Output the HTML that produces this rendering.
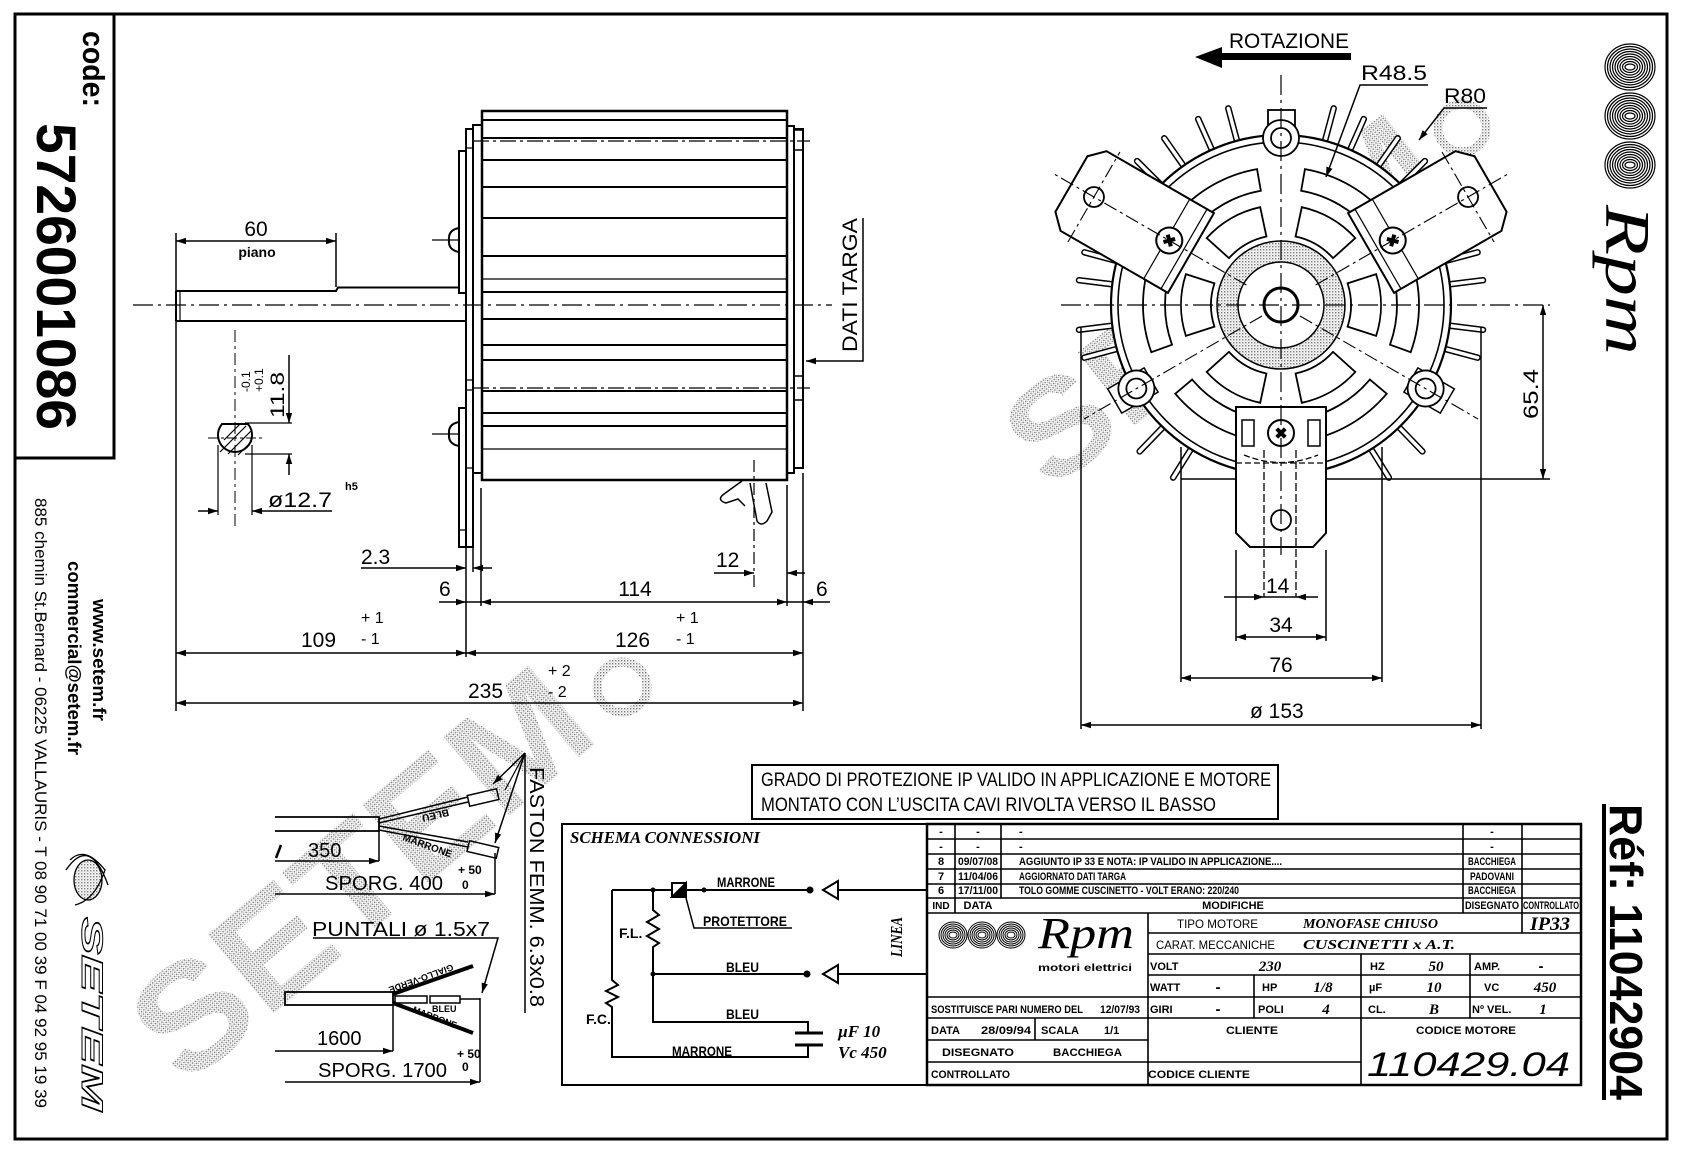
<!DOCTYPE html>
<html><head><meta charset="utf-8"><style>
html,body{margin:0;padding:0;background:#fff;}
svg{display:block;}
text{font-family:"Liberation Sans",sans-serif;fill:#000;stroke:none;}
.s{font-family:"Liberation Serif",serif;font-weight:bold;font-style:italic;}
</style></head><body>
<svg width="1683" height="1153" viewBox="0 0 1683 1153" xmlns="http://www.w3.org/2000/svg">
<defs>
<marker id="a" markerUnits="userSpaceOnUse" markerWidth="12" markerHeight="8" refX="10" refY="4" orient="auto-start-reverse"><path d="M0,0.8 L10,4 L0,7.2 z" fill="#000"/></marker>
<pattern id="st" width="3" height="3" patternUnits="userSpaceOnUse"><rect x="0" y="0" width="1.4" height="1.4" fill="#777"/><rect x="1.6" y="1.6" width="1" height="1" fill="#aaa"/></pattern>
<path id="so" d="M129.68,-47.2 A138,138 0 0 1 129.68,47.2 L109,39.67 A116,116 0 0 0 109,-39.67 Z"/>
<path id="si" d="M95.11,-30.9 A100,100 0 0 1 95.11,30.9 L66.58,21.63 A70,70 0 0 0 66.58,-21.63 Z"/>
<rect id="fin" x="166" y="-2.5" width="40" height="5" rx="2.5"/>
<path id="ph" d="M-6,-2 H-2 V-6 H2 V-2 H6 V2 H2 V6 H-2 V2 H-6 Z"/>
<g id="blob"><ellipse rx="25" ry="23"/><ellipse rx="22.5" ry="20.5"/><ellipse rx="20" ry="18"/><ellipse rx="17.5" ry="15.5"/><ellipse rx="15" ry="13"/><ellipse rx="12.5" ry="10.5"/><ellipse rx="10" ry="8"/><ellipse rx="7.5" ry="5.5"/><ellipse rx="5" ry="3"/></g>
<g id="blob2"><ellipse rx="14" ry="13"/><ellipse rx="12" ry="11"/><ellipse rx="10" ry="9"/><ellipse rx="8" ry="7"/><ellipse rx="6" ry="5"/><ellipse rx="4" ry="3"/></g>
</defs>
<rect width="1683" height="1153" fill="#fff"/>

<!-- watermarks -->
<text transform="translate(1050,492) rotate(-38)" font-size="135" font-weight="bold" textLength="505" lengthAdjust="spacingAndGlyphs" style="fill:url(#st)">SETEM</text>
<text transform="translate(185,1088) rotate(-40)" font-size="150" font-weight="bold" textLength="545" lengthAdjust="spacingAndGlyphs" style="fill:url(#st)">SETEM</text>
<circle cx="1462" cy="128" r="24" fill="none" stroke="url(#st)" stroke-width="9"/>
<circle cx="622" cy="687" r="25" fill="none" stroke="url(#st)" stroke-width="9"/>

<g stroke="#000" fill="none" stroke-width="2">
<rect x="15" y="14" width="1652" height="1125" stroke-width="3"/>
<path d="M114,14 V458 H15" stroke-width="3"/>
</g>

<!-- left column texts -->
<text transform="translate(83,31) rotate(90)" font-size="31" font-weight="bold" textLength="76" lengthAdjust="spacingAndGlyphs">code:</text>
<text transform="translate(37,123) rotate(90)" font-size="56" font-weight="bold" textLength="307" lengthAdjust="spacingAndGlyphs">5726001086</text>
<text transform="translate(35,498) rotate(90)" font-size="17" textLength="610" lengthAdjust="spacingAndGlyphs">885 chemin St.Bernard  -  06225 VALLAURIS  -  T 08 90 71 00 39   F 04 92 95 19 39</text>
<text transform="translate(68,561) rotate(90)" font-size="18" font-weight="bold" textLength="194" lengthAdjust="spacingAndGlyphs">commercial@setem.fr</text>
<text transform="translate(93,599) rotate(90)" font-size="18" font-weight="bold" textLength="122" lengthAdjust="spacingAndGlyphs">www.setem.fr</text>
<g stroke="#000" fill="none" stroke-width="1.3">
<ellipse cx="88" cy="880" rx="14" ry="20" fill="url(#st)"/>
<path d="M70,860 Q85,845 105,870 Q95,900 75,905 M66,870 Q90,835 108,885"/>
</g>
<text transform="translate(82,917) rotate(90)" font-size="30" font-weight="bold" font-style="italic" textLength="194" lengthAdjust="spacingAndGlyphs" style="fill:none;stroke:#000;stroke-width:1">SETEM</text>

<!-- ===== SIDE VIEW ===== -->
<g stroke="#000" fill="none" stroke-width="2">
<path d="M176,291 H336 L338,287.5 H459"/>
<path d="M176,321 H466"/>
<path d="M176,291 V321" />
<path d="M180,291 V321" stroke-width="1.2"/>
<rect x="473" y="125" width="9" height="348" fill="#fff"/>
<rect x="466" y="129" width="7" height="418" fill="#fff"/>
<rect x="459" y="151" width="7" height="142"/>
<rect x="459" y="408" width="7" height="139"/>
<path d="M466,148 H473 M466,380 H473 M466,390 H473 M466,468 H473 M459,530 H466" stroke-width="1.2"/>
<path d="M459,228 Q448,230 449,240 Q448,250 459,252 Z"/>
<path d="M459,422 Q448,424 449,434 Q448,444 459,446 Z"/>
<path d="M432,240 H459 M432,434 H459" stroke-width="1.2"/>
<rect x="482" y="111" width="305" height="369" stroke-width="2.5"/>
<path d="M482,120 H787 M482,138 H787 M482,160 H787 M482,187 H787 M482,218 H787 M482,256 H787 M482,292 H787 M482,319 H787 M482,345 H787 M482,360 H787 M482,391 H787 M482,413 H787 M482,426 H787"/>
<path d="M482,279 H787 M482,449 H787" stroke-width="1.2"/>
<path d="M473,141 H810 M473,388 H810" stroke-width="1.2" stroke-dasharray="16,4,3,4"/>
<rect x="787" y="126" width="7" height="347"/>
<rect x="794" y="129" width="9" height="339"/>
<rect x="794" y="130" width="9" height="20" stroke-width="1.5"/>
<rect x="794" y="376" width="9" height="24" stroke-width="1.5"/>
<path d="M742,481 L724,494 Q716,500 726,503 L738,499 L745,506" stroke-width="1.5"/>
<path d="M750,483 L757,521 Q761,527 767,521 L772,512 L766,483" stroke-width="1.5"/>
<line x1="133" y1="305" x2="832" y2="305" stroke-width="1.2" stroke-dasharray="20,5,3,5"/>
<line x1="754" y1="460" x2="754" y2="590" stroke-width="1.2" stroke-dasharray="12,4,3,4"/>
<path d="M863,218 V361 H806" marker-end="url(#a)" stroke-width="1.5"/>
<path d="M222,424 H248 A17,17 0 1 1 222,424 Z" stroke-width="2"/>
<g stroke-width="1.2">
<path d="M224,440 L240,424 M220,452 L246,426 M228,454 L252,430 M238,455 L252,441"/>
</g>
<line x1="235" y1="330" x2="235" y2="527" stroke-width="1" stroke-dasharray="12,4,3,4"/>
<line x1="208" y1="438" x2="262" y2="438" stroke-width="1" stroke-dasharray="10,3,3,3"/>
<path d="M245,423 H292 M245,454 H292" stroke-width="1.2"/>
<line x1="289" y1="355" x2="289" y2="423" marker-end="url(#a)" stroke-width="1.5"/>
<line x1="289" y1="475" x2="289" y2="454" marker-end="url(#a)" stroke-width="1.5"/>
<path d="M218,445 V515 M252,445 V515" stroke-width="1.2"/>
<line x1="198" y1="511" x2="218" y2="511" marker-end="url(#a)" stroke-width="1.5"/>
<line x1="332" y1="511" x2="252" y2="511" marker-end="url(#a)" stroke-width="1.5"/>
<line x1="176" y1="241" x2="336" y2="241" marker-start="url(#a)" marker-end="url(#a)" stroke-width="1.5"/>
<path d="M176,233 V711 M336,233 V287" stroke-width="1.5"/>
<path d="M466,547 V657 M473,547 V572 M481,488 V606 M787,485 V606 M803,473 V711" stroke-width="1.5"/>
<line x1="361" y1="568" x2="466" y2="568" marker-end="url(#a)" stroke-width="1.5"/>
<line x1="492" y1="568" x2="473" y2="568" marker-end="url(#a)" stroke-width="1.5"/>
<line x1="714" y1="573" x2="754" y2="573" marker-end="url(#a)" stroke-width="1.5"/>
<line x1="805" y1="573" x2="787" y2="573" marker-end="url(#a)" stroke-width="1.5"/>
<line x1="439" y1="602" x2="466" y2="602" marker-end="url(#a)" stroke-width="1.5"/>
<line x1="466" y1="602" x2="481" y2="602" stroke-width="1.5"/>
<line x1="481" y1="602" x2="787" y2="602" marker-start="url(#a)" marker-end="url(#a)" stroke-width="1.5"/>
<line x1="787" y1="602" x2="803" y2="602" stroke-width="1.5"/>
<line x1="830" y1="602" x2="803" y2="602" marker-end="url(#a)" stroke-width="1.5"/>
<line x1="176" y1="653" x2="466" y2="653" marker-start="url(#a)" marker-end="url(#a)" stroke-width="1.5"/>
<line x1="466" y1="653" x2="803" y2="653" marker-start="url(#a)" marker-end="url(#a)" stroke-width="1.5"/>
<line x1="176" y1="703" x2="803" y2="703" marker-start="url(#a)" marker-end="url(#a)" stroke-width="1.5"/>
</g>
<g font-size="21">
<text x="256" y="236" text-anchor="middle">60</text>
<text x="257" y="257" text-anchor="middle" font-size="14" font-weight="bold">piano</text>
<text transform="translate(250,392) rotate(-90)" font-size="12">-0.1</text>
<text transform="translate(263,392) rotate(-90)" font-size="12">+0.1</text>
<text transform="translate(284,418) rotate(-90)" font-size="19" textLength="46" lengthAdjust="spacingAndGlyphs">11.8</text>
<text x="268" y="507" textLength="64" lengthAdjust="spacingAndGlyphs">ø12.7</text>
<text x="345" y="490" font-size="11" font-weight="bold">h5</text>
<text transform="translate(857,352) rotate(-90)" textLength="134" lengthAdjust="spacingAndGlyphs">DATI TARGA</text>
<text x="361" y="564">2.3</text>
<text x="716" y="567">12</text>
<text x="439" y="596">6</text>
<text x="635" y="596" text-anchor="middle">114</text>
<text x="816" y="596">6</text>
<text x="301" y="647">109</text>
<text x="361" y="623" font-size="16">+ 1</text>
<text x="361" y="644" font-size="16">- 1</text>
<text x="615" y="647">126</text>
<text x="676" y="623" font-size="16">+ 1</text>
<text x="676" y="644" font-size="16">- 1</text>
<text x="468" y="698">235</text>
<text x="548" y="676" font-size="16">+ 2</text>
<text x="548" y="697" font-size="16">- 2</text>
</g>

<!-- ===== FRONT VIEW ===== -->
<g stroke="#000" fill="none" stroke-width="1.8">
<g fill="#fff" stroke-width="1.5">
<use href="#fin" transform="translate(1281,305) rotate(-135)"/>
<use href="#fin" transform="translate(1281,305) rotate(-125)"/>
<use href="#fin" transform="translate(1281,305) rotate(-114)"/>
<use href="#fin" transform="translate(1281,305) rotate(-105)"/>
<use href="#fin" transform="translate(1281,305) rotate(-75)"/>
<use href="#fin" transform="translate(1281,305) rotate(-66)"/>
<use href="#fin" transform="translate(1281,305) rotate(-55)"/>
<use href="#fin" transform="translate(1281,305) rotate(-45)"/>
<use href="#fin" transform="translate(1281,305) rotate(-165)"/>
<use href="#fin" transform="translate(1281,305) rotate(-173)"/>
<use href="#fin" transform="translate(1281,305) rotate(173)"/>
<use href="#fin" transform="translate(1281,305) rotate(165)"/>
<use href="#fin" transform="translate(1281,305) rotate(-15)"/>
<use href="#fin" transform="translate(1281,305) rotate(-7)"/>
<use href="#fin" transform="translate(1281,305) rotate(7)"/>
<use href="#fin" transform="translate(1281,305) rotate(15)"/>
<use href="#fin" transform="translate(1281,305) rotate(134)"/>
<use href="#fin" transform="translate(1281,305) rotate(46)"/>
<use href="#fin" transform="translate(1281,305) rotate(122)"/>
<use href="#fin" transform="translate(1281,305) rotate(58)"/>
</g>
<circle cx="1281" cy="305" r="170" stroke-width="2.2" fill="#fff"/>
<circle cx="1281" cy="305" r="163" stroke-width="1.6"/>
<g stroke-width="1.8" fill="#fff">
<use href="#so" transform="translate(1281,305) rotate(-120)"/>
<use href="#so" transform="translate(1281,305) rotate(-60)"/>
<use href="#so" transform="translate(1281,305) rotate(0)"/>
<use href="#so" transform="translate(1281,305) rotate(60)"/>
<use href="#so" transform="translate(1281,305) rotate(120)"/>
<use href="#so" transform="translate(1281,305) rotate(180)"/>
<use href="#si" transform="translate(1281,305) rotate(-120)"/>
<use href="#si" transform="translate(1281,305) rotate(-60)"/>
<use href="#si" transform="translate(1281,305) rotate(0)"/>
<use href="#si" transform="translate(1281,305) rotate(60)"/>
<use href="#si" transform="translate(1281,305) rotate(120)"/>
<use href="#si" transform="translate(1281,305) rotate(180)"/>
</g>
<circle cx="1281" cy="305" r="64" stroke-width="1.5" fill="url(#st)"/>
<circle cx="1281" cy="305" r="43" stroke-width="1.5" fill="#fff"/>
<circle cx="1281" cy="305" r="17" stroke-width="3"/>
<rect x="1268" y="110" width="27" height="28" fill="#fff"/>
<g transform="translate(1281,305) rotate(150)"><rect x="150" y="-14" width="42" height="28" fill="#fff" stroke-width="1.5"/><circle cx="167" cy="0" r="18" fill="#fff"/><circle cx="167" cy="0" r="10"/></g>
<g transform="translate(1281,305) rotate(30)"><rect x="150" y="-14" width="42" height="28" fill="#fff" stroke-width="1.5"/><circle cx="167" cy="0" r="18" fill="#fff"/><circle cx="167" cy="0" r="10"/></g>
<circle cx="1281" cy="138" r="18" fill="#fff"/>
<circle cx="1281" cy="138" r="10"/>
<g stroke-width="1.1" stroke-dasharray="14,4,3,4">
<line x1="1300" y1="316" x2="1478" y2="419" />
<line x1="1262" y1="316" x2="1084" y2="419" />
</g>
<g transform="translate(1281,305) rotate(210)">
<path d="M104,46 L228,46 L242,32 L242,-32 L228,-46 L104,-46 Z" fill="#fff" stroke-width="2"/>
<rect x="112" y="-46" width="20" height="92" fill="none" stroke-width="1.2"/>
<circle cx="216" cy="0" r="10"/>
<circle cx="129" cy="0" r="13" fill="#fff" stroke-width="2"/>
<use href="#ph" transform="translate(129,0) rotate(45)" fill="#000" stroke="none"/>
<line x1="40" y1="0" x2="262" y2="0" stroke-width="1.1" stroke-dasharray="14,4,3,4"/>
<line x1="216" y1="-52" x2="216" y2="52" stroke-width="1.1" stroke-dasharray="14,4,3,4"/>
</g>
<g transform="translate(1281,305) rotate(-30)">
<path d="M104,46 L228,46 L242,32 L242,-32 L228,-46 L104,-46 Z" fill="#fff" stroke-width="2"/>
<rect x="112" y="-46" width="20" height="92" fill="none" stroke-width="1.2"/>
<circle cx="216" cy="0" r="10"/>
<circle cx="129" cy="0" r="13" fill="#fff" stroke-width="2"/>
<use href="#ph" transform="translate(129,0) rotate(45)" fill="#000" stroke="none"/>
<line x1="40" y1="0" x2="262" y2="0" stroke-width="1.1" stroke-dasharray="14,4,3,4"/>
<line x1="216" y1="-52" x2="216" y2="52" stroke-width="1.1" stroke-dasharray="14,4,3,4"/>
</g>
<path d="M1236,407 H1326 V533 L1313,547 H1250 L1236,533 Z" fill="#fff" stroke-width="2"/>
<rect x="1242" y="420" width="12" height="26" stroke-width="1.5"/>
<rect x="1308" y="420" width="12" height="26" stroke-width="1.5"/>
<circle cx="1281" cy="433" r="13" fill="#fff" stroke-width="2"/>
<use href="#ph" transform="translate(1281,433) rotate(45)" fill="#000" stroke="none"/>
<circle cx="1281" cy="520" r="10"/>
<path d="M1236,463 H1326 M1244,455 Q1281,470 1318,455" stroke-width="1.3" stroke-dasharray="6,3"/>
<path d="M1264,450 V597 M1296,450 V597" stroke-width="1.3" stroke-dasharray="8,3"/>
<line x1="1061" y1="305" x2="1550" y2="305" stroke-width="1.2" stroke-dasharray="20,5,3,5"/>
<line x1="1281" y1="75" x2="1281" y2="555" stroke-width="1.2" stroke-dasharray="20,5,3,5"/>
<rect x="1222" y="53" width="129" height="7" fill="#000" stroke="none"/>
<path d="M1195,57 L1222,47 L1222,68 Z" fill="#000" stroke="none"/>
<path d="M1428,85 H1360 L1326,177" stroke-width="1.5" marker-end="url(#a)"/>
<path d="M1487,108 H1444 L1419,140" stroke-width="1.5" marker-end="url(#a)"/>
<path d="M1326,479 H1550 M1181,479 H1236" stroke-width="1.5"/>
<line x1="1543" y1="305" x2="1543" y2="479" marker-start="url(#a)" marker-end="url(#a)" stroke-width="1.5"/>
<path d="M1081,327 V729 M1481,327 V729 M1181,447 V682 M1382,447 V682 M1236,550 V641 M1326,550 V641" stroke-width="1.5"/>
<line x1="1224" y1="597" x2="1264" y2="597" marker-end="url(#a)" stroke-width="1.5"/>
<line x1="1318" y1="597" x2="1296" y2="597" marker-end="url(#a)" stroke-width="1.5"/>
<line x1="1264" y1="597" x2="1296" y2="597" stroke-width="1.5"/>
<line x1="1236" y1="637" x2="1326" y2="637" marker-start="url(#a)" marker-end="url(#a)" stroke-width="1.5"/>
<line x1="1181" y1="678" x2="1382" y2="678" marker-start="url(#a)" marker-end="url(#a)" stroke-width="1.5"/>
<line x1="1081" y1="725" x2="1481" y2="725" marker-start="url(#a)" marker-end="url(#a)" stroke-width="1.5"/>
</g>
<g font-size="21">
<text x="1229" y="48" textLength="120" lengthAdjust="spacingAndGlyphs">ROTAZIONE</text>
<text x="1361" y="80" textLength="66" lengthAdjust="spacingAndGlyphs">R48.5</text>
<text x="1444" y="103" textLength="42" lengthAdjust="spacingAndGlyphs">R80</text>
<text transform="translate(1538,419) rotate(-90)" textLength="50" lengthAdjust="spacingAndGlyphs">65.4</text>
<text x="1266" y="593">14</text>
<text x="1281" y="632" text-anchor="middle">34</text>
<text x="1281" y="672" text-anchor="middle">76</text>
<text x="1250" y="718">ø 153</text>
</g>

<!-- right logo + ref -->
<g stroke="#000" fill="none" stroke-width="1.2">
<use href="#blob" transform="translate(1630,67)"/>
<use href="#blob" transform="translate(1630,116)"/>
<use href="#blob" transform="translate(1630,165)"/>
</g>
<text class="s" transform="translate(1606,205) rotate(90)" font-size="64" style="font-weight:normal" textLength="150" lengthAdjust="spacingAndGlyphs">Rpm</text>
<text transform="translate(1610,804) rotate(90)" font-size="46" font-weight="bold" textLength="296" lengthAdjust="spacingAndGlyphs">Réf: 11042904</text>
<rect x="1602" y="804" width="4" height="296" fill="#000"/>

<!-- note box -->
<rect x="752" y="765" width="526" height="54" fill="none" stroke="#000" stroke-width="2"/>
<text x="761" y="786" font-size="19" textLength="510" lengthAdjust="spacingAndGlyphs">GRADO DI PROTEZIONE IP VALIDO IN APPLICAZIONE E MOTORE</text>
<text x="761" y="811" font-size="19" textLength="455" lengthAdjust="spacingAndGlyphs">MONTATO CON L’USCITA CAVI RIVOLTA VERSO IL BASSO</text>

<!-- wiring lower-left -->
<g stroke="#000" fill="none" stroke-width="1.8">
<path d="M275,817 H379 V831 H275"/>
<line x1="276" y1="858" x2="281" y2="845" stroke-width="2.5"/>
<line x1="275" y1="861" x2="379" y2="861" marker-end="url(#a)" stroke-width="1.5"/>
<line x1="379" y1="831" x2="379" y2="861" stroke-width="1.5"/>
<path d="M379,819 L468,797 M379,823 L468,802" stroke-width="1.5"/>
<path d="M379,826 L468,842 M379,830 L468,847" stroke-width="1.5"/>
<rect x="468" y="792" width="30" height="11" transform="rotate(-13 483 797)" stroke-width="1.5"/>
<rect x="468" y="844" width="30" height="11" transform="rotate(13 483 849)" stroke-width="1.5"/>
<line x1="525" y1="753" x2="525" y2="1013" stroke-width="1.5"/>
<line x1="525" y1="753" x2="493" y2="784" marker-end="url(#a)" stroke-width="1.5"/>
<line x1="525" y1="753" x2="495" y2="843" marker-end="url(#a)" stroke-width="1.5"/>
<line x1="525" y1="753" x2="505" y2="790" stroke-width="1.2"/>
<line x1="275" y1="894" x2="495" y2="894" marker-end="url(#a)" stroke-width="1.5"/>
<line x1="495" y1="853" x2="495" y2="894" stroke-width="1.5"/>
<path d="M313,938 H498 L482,993" marker-end="url(#a)" stroke-width="1.5"/>
<rect x="285" y="992" width="108" height="13"/>
<line x1="393" y1="994" x2="473" y2="966" stroke-width="4"/>
<rect x="395" y="996" width="32" height="7" stroke-width="1.5"/>
<rect x="430" y="996" width="30" height="7" stroke-width="1.5"/>
<line x1="460" y1="999" x2="480" y2="999" stroke-width="1.5"/>
<line x1="393" y1="1003" x2="473" y2="1033" stroke-width="4"/>
<line x1="275" y1="1051" x2="393" y2="1051" marker-end="url(#a)" stroke-width="1.5"/>
<line x1="393" y1="1005" x2="393" y2="1051" stroke-width="1.5"/>
<line x1="285" y1="1082" x2="480" y2="1082" marker-end="url(#a)" stroke-width="1.5"/>
<line x1="480" y1="998" x2="480" y2="1082" stroke-width="1.5"/>
</g>
<g font-size="20">
<text x="308" y="857">350</text>
<text x="325" y="890" textLength="118" lengthAdjust="spacingAndGlyphs">SPORG. 400</text>
<text x="458" y="874" font-size="12" font-weight="bold">+ 50</text>
<text x="462" y="889" font-size="12" font-weight="bold">0</text>
<text x="312" y="936" textLength="178" lengthAdjust="spacingAndGlyphs">PUNTALI ø 1.5x7</text>
<text x="317" y="1045">1600</text>
<text x="318" y="1077" textLength="129" lengthAdjust="spacingAndGlyphs">SPORG. 1700</text>
<text x="457" y="1058" font-size="12" font-weight="bold">+ 50</text>
<text x="462" y="1071" font-size="12" font-weight="bold">0</text>
<text transform="translate(530,767) rotate(90)" font-size="20" textLength="240" lengthAdjust="spacingAndGlyphs">FASTON FEMM. 6.3x0.8</text>
<text transform="translate(448,809) rotate(167)" font-size="10" font-weight="bold">BLEU</text>
<text transform="translate(402,840) rotate(20)" font-size="10" font-weight="bold">MARRONE</text>
<text transform="translate(452,964) rotate(160)" font-size="9" font-weight="bold">GIALLO-VERDE</text>
<text x="432" y="1012" font-size="9" font-weight="bold">BLEU</text>
<text transform="translate(412,1012) rotate(21)" font-size="9" font-weight="bold">MARRONE</text>
</g>

<!-- schematic -->
<g stroke="#000" fill="none" stroke-width="2">
<rect x="562" y="824" width="365" height="261"/>
<path d="M612,890 H810"/>
<path d="M838,890 H927 M838,974 H927"/>
<path d="M823,890 L838,881 L838,899 Z" fill="#fff"/>
<path d="M823,974 L838,965 L838,983 Z" fill="#fff"/>
<rect x="672" y="883" width="14" height="14" fill="#fff"/>
<path d="M686,883 V897 H672 Z" fill="#000"/>
<path d="M686,898 L694,928 H792" stroke-width="1.5"/>
<path d="M653,890 V910 L659,915 L647,922 L659,929 L647,936 L659,943 L653,947 V974 H807"/>
<path d="M612,890 V980 L618,985 L606,991 L618,997 L606,1003 L612,1007 V1057 H808 V1045"/>
<path d="M653,974 V1022 H808 V1033"/>
<path d="M795,1033 H823 M795,1045 H823" stroke-width="3"/>
</g>
<g fill="#000">
<circle cx="653" cy="890" r="2.5"/><circle cx="704" cy="890" r="2.5"/><circle cx="810" cy="890" r="3.5"/>
<circle cx="653" cy="974" r="2.5"/><circle cx="807" cy="974" r="3.5"/>
</g>
<text class="s" x="570" y="843" font-size="17" textLength="190" lengthAdjust="spacingAndGlyphs">SCHEMA CONNESSIONI</text>
<g font-size="14" font-weight="bold">
<text x="717" y="887" textLength="58" lengthAdjust="spacingAndGlyphs">MARRONE</text>
<text x="703" y="926" textLength="84" lengthAdjust="spacingAndGlyphs">PROTETTORE</text>
<text x="619" y="938">F.L.</text>
<text x="726" y="972" textLength="33" lengthAdjust="spacingAndGlyphs">BLEU</text>
<text x="726" y="1019" textLength="33" lengthAdjust="spacingAndGlyphs">BLEU</text>
<text x="672" y="1056" textLength="60" lengthAdjust="spacingAndGlyphs">MARRONE</text>
<text x="586" y="1024">F.C.</text>
</g>
<text class="s" x="838" y="1037" font-size="17">µF  10</text>
<text class="s" x="838" y="1058" font-size="17">Vc  450</text>
<text class="s" transform="translate(902,957) rotate(-90)" font-size="17" textLength="40" lengthAdjust="spacingAndGlyphs">LINEA</text>

<!-- title block -->
<g stroke="#000" fill="none" stroke-width="1.6">
<rect x="927" y="824" width="654" height="261" stroke-width="2.5"/>
<path d="M927,839 H1581 M927,854 H1581 M927,869 H1581 M927,884 H1581 M927,898 H1581 M927,913 H1581"/>
<path d="M955,824 V913 M1001,824 V898 M1463,824 V913 M1522,824 V933"/>
<path d="M1148,933 H1581 M1148,954 H1581 M1148,975 H1581 M927,997 H1581 M927,1018 H1581"/>
<path d="M1148,913 V1085 M1254,975 V1018 M1361,954 V1085 M1470,954 V1018"/>
<path d="M927,1040 H1148 M927,1062 H1361 M1035,1018 V1040"/>
</g>
<g font-size="11" font-weight="bold">
<text x="941" y="835" text-anchor="middle">-</text><text x="978" y="835" text-anchor="middle">-</text><text x="1019" y="835">-</text><text x="1492" y="835" text-anchor="middle">-</text>
<text x="941" y="850" text-anchor="middle">-</text><text x="978" y="850" text-anchor="middle">-</text><text x="1019" y="850">-</text><text x="1492" y="850" text-anchor="middle">-</text>
<text x="941" y="865" text-anchor="middle">8</text><text x="978" y="865" text-anchor="middle" textLength="40" lengthAdjust="spacingAndGlyphs">09/07/08</text><text x="1019" y="865" textLength="263" lengthAdjust="spacingAndGlyphs">AGGIUNTO IP 33 E NOTA: IP VALIDO IN APPLICAZIONE....</text><text x="1492" y="865" text-anchor="middle" textLength="48" lengthAdjust="spacingAndGlyphs">BACCHIEGA</text>
<text x="941" y="880" text-anchor="middle">7</text><text x="978" y="880" text-anchor="middle" textLength="40" lengthAdjust="spacingAndGlyphs">11/04/06</text><text x="1019" y="880" textLength="107" lengthAdjust="spacingAndGlyphs">AGGIORNATO DATI TARGA</text><text x="1492" y="880" text-anchor="middle" textLength="44" lengthAdjust="spacingAndGlyphs">PADOVANI</text>
<text x="941" y="894" text-anchor="middle">6</text><text x="978" y="894" text-anchor="middle" textLength="40" lengthAdjust="spacingAndGlyphs">17/11/00</text><text x="1019" y="894" textLength="220" lengthAdjust="spacingAndGlyphs">TOLO GOMME CUSCINETTO - VOLT ERANO: 220/240</text><text x="1492" y="894" text-anchor="middle" textLength="48" lengthAdjust="spacingAndGlyphs">BACCHIEGA</text>
<text x="941" y="909" text-anchor="middle" font-size="10">IND</text><text x="978" y="909" text-anchor="middle">DATA</text><text x="1233" y="909" text-anchor="middle">MODIFICHE</text><text x="1492" y="909" text-anchor="middle" textLength="54" lengthAdjust="spacingAndGlyphs">DISEGNATO</text><text x="1551" y="909" text-anchor="middle" textLength="56" lengthAdjust="spacingAndGlyphs">CONTROLLATO</text>
</g>
<g stroke="#000" fill="none" stroke-width="1">
<use href="#blob2" transform="translate(953,935)"/>
<use href="#blob2" transform="translate(982,935)"/>
<use href="#blob2" transform="translate(1011,935)"/>
</g>
<text x="1038" y="948" font-style="italic" font-size="44" style="font-family:'Liberation Serif',serif" textLength="96" lengthAdjust="spacingAndGlyphs">Rpm</text>
<text x="1038" y="971" font-size="10" font-weight="bold" textLength="94" lengthAdjust="spacingAndGlyphs">motori elettrici</text>
<g font-size="12">
<text x="1177" y="928" textLength="81" lengthAdjust="spacingAndGlyphs">TIPO MOTORE</text>
<text class="s" x="1303" y="928" font-size="14" textLength="135" lengthAdjust="spacingAndGlyphs">MONOFASE CHIUSO</text>
<text class="s" x="1530" y="930" font-size="19" textLength="40" lengthAdjust="spacingAndGlyphs">IP33</text>
<text x="1156" y="949" textLength="119" lengthAdjust="spacingAndGlyphs">CARAT. MECCANICHE</text>
<text class="s" x="1303" y="949" font-size="14" textLength="152" lengthAdjust="spacingAndGlyphs">CUSCINETTI x A.T.</text>
<g font-weight="bold" font-size="11">
<text x="1150" y="970">VOLT</text><text x="1370" y="970">HZ</text><text x="1474" y="970">AMP.</text>
<text x="1150" y="991">WATT</text><text x="1262" y="991">HP</text><text x="1369" y="991">µF</text><text x="1484" y="991">VC</text>
<text x="1150" y="1013">GIRI</text><text x="1258" y="1013">POLI</text><text x="1368" y="1013">CL.</text><text x="1472" y="1013">Nº VEL.</text>
<text x="931" y="1013" textLength="152" lengthAdjust="spacingAndGlyphs">SOSTITUISCE PARI NUMERO DEL</text><text x="1100" y="1013" textLength="40" lengthAdjust="spacingAndGlyphs">12/07/93</text>
<text x="931" y="1034">DATA</text><text x="981" y="1034" textLength="50" lengthAdjust="spacingAndGlyphs">28/09/94</text><text x="1041" y="1034">SCALA</text><text x="1104" y="1034">1/1</text>
<text x="942" y="1056" textLength="72" lengthAdjust="spacingAndGlyphs">DISEGNATO</text><text x="1053" y="1056" textLength="69" lengthAdjust="spacingAndGlyphs">BACCHIEGA</text>
<text x="931" y="1078" textLength="79" lengthAdjust="spacingAndGlyphs">CONTROLLATO</text>
<text x="1252" y="1034" text-anchor="middle" textLength="52" lengthAdjust="spacingAndGlyphs">CLIENTE</text>
<text x="1148" y="1078" textLength="102" lengthAdjust="spacingAndGlyphs">CODICE CLIENTE</text>
<text x="1466" y="1034" text-anchor="middle" textLength="100" lengthAdjust="spacingAndGlyphs">CODICE MOTORE</text>
</g>
<g font-size="15">
<text class="s" x="1270" y="971" text-anchor="middle">230</text>
<text class="s" x="1436" y="971" text-anchor="middle">50</text>
<text x="1541" y="971" text-anchor="middle" font-weight="bold">-</text>
<text x="1218" y="992" text-anchor="middle" font-weight="bold">-</text>
<text class="s" x="1323" y="992" text-anchor="middle">1/8</text>
<text class="s" x="1434" y="992" text-anchor="middle">10</text>
<text class="s" x="1545" y="992" text-anchor="middle">450</text>
<text x="1218" y="1014" text-anchor="middle" font-weight="bold">-</text>
<text class="s" x="1326" y="1014" text-anchor="middle">4</text>
<text class="s" x="1434" y="1014" text-anchor="middle">B</text>
<text class="s" x="1543" y="1014" text-anchor="middle">1</text>
</g>
<text x="1367" y="1076" font-size="34" font-style="italic" textLength="203" lengthAdjust="spacingAndGlyphs">110429.04</text>
</g>
</svg>
</body></html>
